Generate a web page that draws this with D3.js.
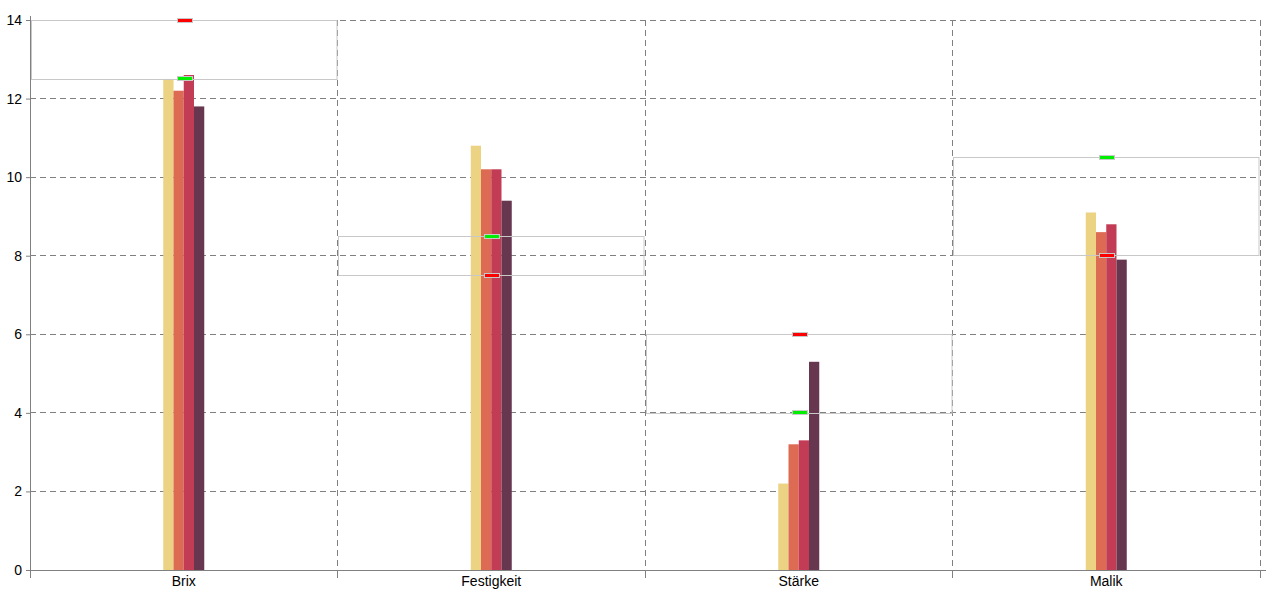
<!DOCTYPE html>
<html>
<head>
<meta charset="utf-8">
<script src="https://cdn.jsdelivr.net/npm/d3@7"></script>
<style>
  body { margin: 0; background: #fff; }
  svg { font-family: "Liberation Sans", Arial, sans-serif; }
  .axis path, .axis line { stroke: #808080; }
  .axis text { font-size: 14px; fill: #000; }
</style>
</head>
<body>
<div id="chart"></div>
<script>
"use strict";
(function() {

const WIDTH = 1280
const HEIGHT = 600
const margin = { top: 20, bottom: 30, left: 30, right: 20 }

const categories = ["Brix", "Festigkeit", "Stärke", "Malik"]
const series = ["s1", "s2", "s3", "s4"]
const COLORS = ["#ecd283", "#dd6a53", "#c33c55", "#66374e"]

// one array per series, in category order
const s1 = [12.5, 10.8, 2.2, 9.1]
const s2 = [12.2, 10.2, 3.2, 8.6]
const s3 = [12.6, 10.2, 3.3, 8.8]
const s4 = [11.8, 9.4, 5.3, 7.9]
const values = [s1, s2, s3, s4]

// target ranges and the two marker values
const rangeLow  = [12.5, 7.5, 4, 8]
const rangeHigh = [14, 8.5, 6, 10.5]
const greenMark = [12.5, 8.5, 4, 10.5]
const redMark   = [14, 7.5, 6, 8]

const yTicks = [0, 2, 4, 6, 8, 10, 12, 14]

const svg = d3.select("#chart").append("svg")
    .attr("width", WIDTH)
    .attr("height", HEIGHT)

let x = d3.scaleBand().domain(categories).range([margin.left, WIDTH - margin.right])
let y = d3.scaleLinear().domain([0, 14]).range([HEIGHT - margin.bottom, margin.top])

let px = v => Math.floor(v) + 0.5
let edges = categories.map(c => x(c) + x.bandwidth())

// grid
svg.append("g").selectAll("line.h")
    .data(yTicks.filter(d => d > 0))
    .join("line")
    .attr("x1", x.range()[0]).attr("x2", x.range()[1])
    .attr("y1", d => px(y(d))).attr("y2", d => px(y(d)))
    .style("stroke", "#808080").style("stroke-dasharray", "6,4")

svg.append("g").selectAll("line.v")
    .data(edges)
    .join("line")
    .attr("x1", d => px(d)).attr("x2", d => px(d))
    .attr("y1", y(14)).attr("y2", y(0))
    .style("stroke", "#808080").style("stroke-dasharray", "6,4")

// bars
let inner = d3.scaleBand().domain(series).range([-20.5, 20.5])

categories.forEach((c, i) => {
    let cx = x(c) + x.bandwidth() / 2
    svg.append("g").selectAll("rect")
        .data(series)
        .join("rect")
        .attr("x", s => cx + inner(s))
        .attr("width", inner.bandwidth())
        .attr("y", (s, j) => y(values[j][i]))
        .attr("height", (s, j) => y(0) - y(values[j][i]))
        .style("fill", (s, j) => COLORS[j])
})

// target range boxes
svg.append("g").selectAll("rect")
    .data(categories)
    .join("rect")
    .attr("x", c => px(x(c)) + 1)
    .attr("width", x.bandwidth() - 2)
    .attr("y", (c, i) => px(y(rangeHigh[i])))
    .attr("height", (c, i) => Math.round(y(rangeLow[i]) - y(rangeHigh[i])))
    .style("fill", "none").style("stroke", "#c8c8c8")

// markers
function markers(vals, color) {
    svg.append("g").selectAll("rect")
        .data(categories)
        .join("rect")
        .attr("x", c => Math.round(x(c) + x.bandwidth() / 2) - 6.5)
        .attr("width", 15)
        .attr("y", (c, i) => Math.floor(y(vals[i])) - 1.5)
        .attr("height", 4)
        .style("fill", color).style("stroke", "#c8c8c8")
}
markers(greenMark, "#00ee00")
markers(redMark, "#ff0000")

// axes
svg.append("g")
    .attr("class", "axis")
    .attr("transform", `translate(${margin.left}, 0)`)
    .call(d3.axisLeft(y).tickValues(yTicks).tickSize(4).tickSizeOuter(0).tickPadding(4))
    .call(g => g.select(".domain").attr("d", `M0.5,${y(0)}V${margin.top - 4}`))

svg.append("g")
    .attr("class", "axis")
    .attr("transform", `translate(0, ${y(0)})`)
    .call(d3.axisBottom(x).tickSize(0).tickPadding(6))
    .call(g => g.select(".domain").attr("d", `M${margin.left},0.5H${WIDTH - margin.right + 6}`))

svg.append("g")
    .attr("transform", `translate(0, ${y(0)})`)
    .selectAll("line")
    .data([x.range()[0]].concat(edges))
    .join("line")
    .attr("x1", d => px(d)).attr("x2", d => px(d))
    .attr("y1", 0).attr("y2", 8)
    .style("stroke", "#808080")

})();
</script>
</body>
</html>
